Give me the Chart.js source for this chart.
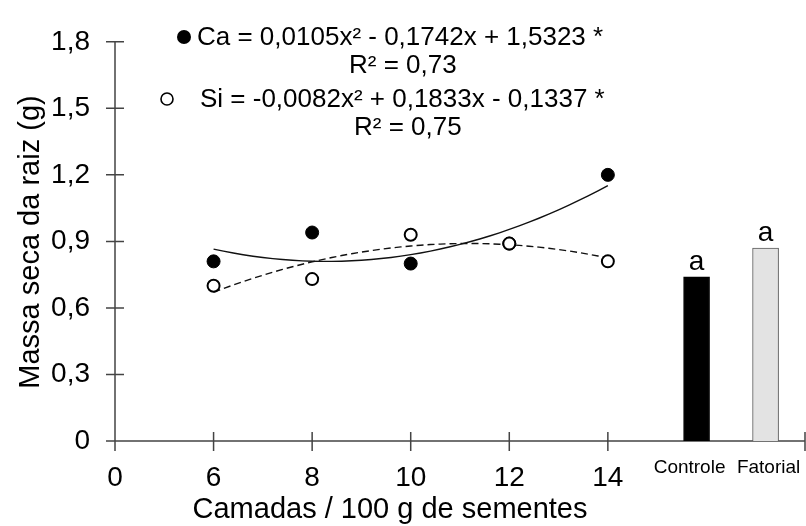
<!DOCTYPE html>
<html>
<head>
<meta charset="utf-8">
<script src="https://cdn.jsdelivr.net/npm/chart.js@4/dist/chart.umd.min.js"></script>
<style>
  html, body { margin: 0; padding: 0; background: #fff; overflow: hidden; }
  #wrap { width: 806px; height: 526px; position: relative; }
  canvas { display: block; }
</style>
</head>
<body>
<div id="wrap"><canvas id="grafico"></canvas></div>
<script>
// Camadas / 100 g de sementes
const doses = [6, 8, 10, 12, 14];
const massaCa = [0.81, 0.94, 0.80, 0.89, 1.20];
const massaSi = [0.70, 0.73, 0.93, 0.89, 0.81];

// y = a·x² + b·x + c
const coefCa = [0.0105, -0.1742, 1.5323];
const coefSi = [-0.0082, 0.1833, -0.1337];
const r2Ca = 0.73;
const r2Si = 0.75;

// tratamentos adicionais
const tratamentos = ['Controle', 'Fatorial'];
const posTrat = [15.8, 17.2];
const massaTrat = [0.74, 0.87];
const letrasTrat = ['a', 'a'];

const yTickValores = [0, 0.3, 0.6, 0.9, 1.2, 1.5, 1.8];
const yTickTextos = ['0', '0,3', '0,6', '0,9', '1,2', '1,5', '1,8'];
// o "0" fica logo antes do 6 (eixo quebrado)
const xTickValores = [4, 6, 8, 10, 12, 14, 18];
const xTickTextos = ['0', '6', '8', '10', '12', '14', ''];

const FONTE = '"Liberation Sans", Arial, sans-serif';

const curva = (coef) => {
    const pts = [];
    for (let x = doses[0]; x <= doses[doses.length - 1] + 1e-9; x += 0.2) {
        pts.push({ x: x, y: coef[0] * x * x + coef[1] * x + coef[2] });
    }
    return pts;
};

const num = (v) => Math.abs(v).toFixed(4).replace('.', ',');
const equacao = (nome, c) =>
    nome + ' = ' + (c[0] < 0 ? '-' : '') + num(c[0]) + 'x²' +
    (c[1] < 0 ? ' - ' : ' + ') + num(c[1]) + 'x' +
    (c[2] < 0 ? ' - ' : ' + ') + num(c[2]) + ' *';
const r2Texto = (r) => 'R² = ' + r.toFixed(2).replace('.', ',');

const pontos = (ys) => doses.map((d, i) => ({ x: d, y: ys[i] }));

// eixos com marcas cruzando a linha, equações e rótulos
const extras = {
    id: 'extras',
    afterLayout(chart) {
        // o eixo x vai até a borda direita do canvas
        const x = chart.scales.x;
        const dir = chart.width - 1;
        x.right = dir;
        x.width = dir - x.left;
        chart.chartArea.right = dir;
        chart.chartArea.width = dir - chart.chartArea.left;
        x.configure();
    },
    beforeDatasetsDraw(chart) {
        const { ctx, chartArea: a, scales: { x, y } } = chart;
        ctx.save();
        ctx.strokeStyle = '#444';
        ctx.lineWidth = 1.5;
        ctx.beginPath();
        ctx.moveTo(a.left, a.top);
        ctx.lineTo(a.left, a.bottom);
        ctx.moveTo(a.left, a.bottom);
        ctx.lineTo(a.right, a.bottom);
        y.ticks.forEach(t => {
            const py = y.getPixelForValue(t.value);
            ctx.moveTo(a.left - 9, py);
            ctx.lineTo(a.left + 9, py);
        });
        x.ticks.forEach(t => {
            const px = x.getPixelForValue(t.value);
            ctx.moveTo(px, a.bottom - 9);
            ctx.lineTo(px, a.bottom + 10);
        });
        ctx.stroke();
        ctx.restore();
    },
    afterDraw(chart) {
        const { ctx } = chart;
        ctx.save();
        ctx.fillStyle = '#000';
        ctx.strokeStyle = '#000';

        // equações
        ctx.font = '26px ' + FONTE;
        ctx.textBaseline = 'middle';
        ctx.textAlign = 'left';
        ctx.beginPath();
        ctx.arc(184, 37, 7, 0, Math.PI * 2);
        ctx.fill();
        ctx.fillText(equacao('Ca', coefCa), 197, 38);
        ctx.fillText(r2Texto(r2Ca), 349, 66);
        ctx.beginPath();
        ctx.lineWidth = 1.6;
        ctx.arc(167, 99, 6, 0, Math.PI * 2);
        ctx.stroke();
        ctx.fillText(equacao('Si', coefSi), 200, 100);
        ctx.fillText(r2Texto(r2Si), 354, 128);

        // letras e nomes dos tratamentos
        const barras = chart.getDatasetMeta(0).data;
        const desloc = [-7, 3];
        ctx.textAlign = 'center';
        barras.forEach((b, i) => {
            ctx.font = '28px ' + FONTE;
            ctx.textBaseline = 'alphabetic';
            ctx.fillText(letrasTrat[i], b.x, b.y - 7);
            ctx.font = '19px ' + FONTE;
            ctx.textBaseline = 'middle';
            ctx.fillText(tratamentos[i], b.x + desloc[i], 468);
        });

        // títulos dos eixos
        ctx.font = '29px ' + FONTE;
        ctx.textBaseline = 'alphabetic';
        ctx.fillText('Camadas / 100 g de sementes', 390, 518);
        ctx.translate(31, 242);
        ctx.rotate(-Math.PI / 2);
        ctx.textBaseline = 'middle';
        ctx.fillText('Massa seca da raiz (g)', 0, 0);
        ctx.restore();
    }
};

new Chart(document.getElementById('grafico'), {
    type: 'scatter',
    data: {
        datasets: [
            {
                type: 'bar',
                label: 'Tratamentos',
                data: posTrat.map((p, i) => ({ x: p, y: massaTrat[i] })),
                backgroundColor: ['#000000', '#e3e3e3'],
                borderColor: ['#000000', '#5a5a5a'],
                borderWidth: 1,
                barThickness: 26,
                order: 3
            },
            {
                type: 'line',
                label: 'Ca ajuste',
                data: curva(coefCa),
                borderColor: '#111',
                borderWidth: 1.4,
                pointRadius: 0,
                fill: false,
                order: 2
            },
            {
                type: 'line',
                label: 'Si ajuste',
                data: curva(coefSi),
                borderColor: '#111',
                borderWidth: 1.4,
                borderDash: [7, 4],
                pointRadius: 0,
                fill: false,
                order: 2
            },
            {
                label: 'Ca',
                data: pontos(massaCa),
                backgroundColor: '#000',
                borderColor: '#000',
                pointRadius: 6.5,
                order: 1
            },
            {
                label: 'Si',
                data: pontos(massaSi),
                backgroundColor: '#fff',
                borderColor: '#000',
                borderWidth: 2,
                pointRadius: 6,
                order: 0
            }
        ]
    },
    options: {
        responsive: true,
        maintainAspectRatio: false,
        animation: false,
        layout: { padding: { top: 24, right: 1, left: 0, bottom: 0 } },
        plugins: {
            legend: { display: false },
            tooltip: { enabled: false }
        },
        scales: {
            x: {
                type: 'linear',
                min: 4,
                max: 18,
                offset: false,
                grid: { display: false, drawTicks: false },
                border: { display: false },
                afterBuildTicks: (s) => { s.ticks = xTickValores.map(v => ({ value: v })); },
                afterFit: (s) => {
                    s.height = 85;
                    s.paddingLeft = 0;
                    s.paddingRight = 0;
                },
                ticks: {
                    autoSkip: false,
                    maxRotation: 0,
                    padding: 20,
                    color: '#000',
                    font: { family: FONTE, size: 28 },
                    callback: (v, i) => xTickTextos[i]
                }
            },
            y: {
                min: 0,
                max: 1.8,
                grid: { display: false, drawTicks: false },
                border: { display: false },
                afterBuildTicks: (s) => { s.ticks = yTickValores.map(v => ({ value: v })); },
                afterFit: (s) => { s.width = 115; },
                ticks: {
                    padding: 25,
                    color: '#000',
                    font: { family: FONTE, size: 28 },
                    callback: (v, i) => yTickTextos[i]
                }
            }
        }
    },
    plugins: [extras]
});
</script>
</body>
</html>
